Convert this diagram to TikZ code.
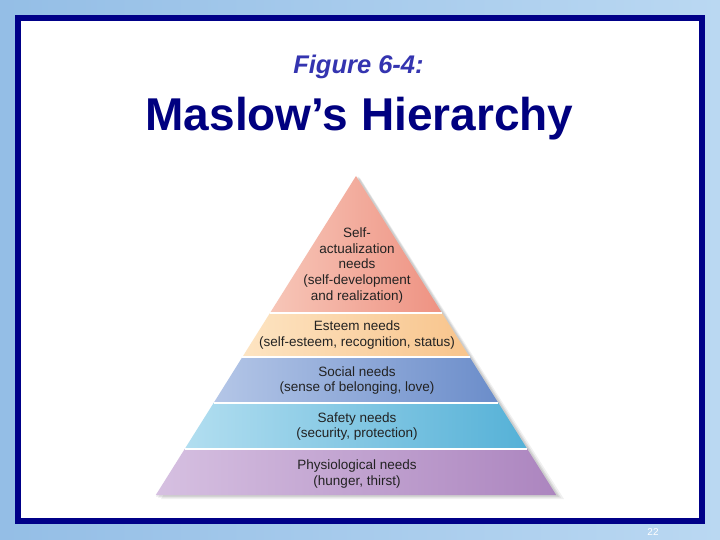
\documentclass[tikz,border=0pt]{standalone}
\usepackage{fontspec}
\setmainfont{Liberation Sans}
\definecolor{bgleft}{HTML}{94BEE6}
\definecolor{bgright}{HTML}{BAD8F2}
\definecolor{framenavy}{HTML}{000088}
\definecolor{titlenavy}{HTML}{000080}
\definecolor{figblue}{HTML}{3434B0}
\definecolor{labelgray}{HTML}{222222}
\definecolor{pinkL}{HTML}{F7C6B8}
\definecolor{pinkR}{HTML}{EE9282}
\definecolor{peachL}{HTML}{FDE4C2}
\definecolor{peachR}{HTML}{F8C48C}
\definecolor{blueL}{HTML}{B4C6E7}
\definecolor{blueR}{HTML}{6B8DCA}
\definecolor{cyanL}{HTML}{B2DEF0}
\definecolor{cyanR}{HTML}{55B1D7}
\definecolor{purpL}{HTML}{D6C0E1}
\definecolor{purpR}{HTML}{AC85BF}
\begin{document}
\begin{tikzpicture}[x=1pt,y=-1pt,
  lbl/.style={align=center, font=\fontsize{13.5}{15.8}\selectfont, text=labelgray, inner sep=0pt},
  sep/.style={draw=white, line width=1.6pt}]
\useasboundingbox (0,0) rectangle (720,540);
% background
\shade[left color=bgleft, right color=bgright] (0,0) rectangle (720,540);
% white card with navy frame
\fill[white] (18,18) rectangle (701.5,521);
\draw[framenavy, line width=6pt] (18,18) rectangle (701.5,521);
% titles
\node[anchor=base, font=\fontsize{25.5}{30}\selectfont\bfseries\itshape, text=figblue, inner sep=0pt] (fig) at (358.5,74) {Figure 6-4:};
\node[anchor=base, font=\fontsize{46}{54}\selectfont\bfseries, text=titlenavy, inner sep=0pt] (title) at (359.5,131) {Maslow’s Hierarchy};
% pyramid shadow
\fill[black, opacity=0.06] (360,178) -- (564,499) -- (161,499) -- cycle;
\fill[black, opacity=0.07] (359,177) -- (561,497.5) -- (158,497.5) -- cycle;
\fill[black, opacity=0.08] (358,176.5) -- (559,496.5) -- (156,496.5) -- cycle;
% layers
\shade[left color=pinkL, right color=pinkR] (356,176) -- (442,313) -- (270,313) -- cycle;
\shade[left color=peachL, right color=peachR] (270,313) -- (442,313) -- (469.6,357) -- (242.4,357) -- cycle;
\shade[left color=blueL, right color=blueR] (242.4,357) -- (469.6,357) -- (498.4,403) -- (213.6,403) -- cycle;
\shade[left color=cyanL, right color=cyanR] (213.6,403) -- (498.4,403) -- (527.3,449) -- (184.7,449) -- cycle;
\shade[left color=purpL, right color=purpR] (184.7,449) -- (527.3,449) -- (556.2,495) -- (155.8,495) -- cycle;
% separators
\draw[sep] (270,313) -- (442,313);
\draw[sep] (242.4,357) -- (469.6,357);
\draw[sep] (213.6,403) -- (498.4,403);
\draw[sep] (184.7,449) -- (527.3,449);
% labels
\node[lbl] (self) at (357,265.5) {Self-\\actualization\\needs\\(self-development\\and realization)};
\node[lbl] (esteem) at (357,335) {Esteem needs\\(self-esteem, recognition, status)};
\node[lbl] (social) at (357,380.5) {Social needs\\(sense of belonging, love)};
\node[lbl] (safety) at (357,426.5) {Safety needs\\(security, protection)};
\node[lbl] (physio) at (357,474) {Physiological needs\\(hunger, thirst)};
% page number
\node[font=\fontsize{10}{11}\selectfont, text=white, inner sep=0pt] (page) at (653,532) {22};
\end{tikzpicture}
\end{document}
